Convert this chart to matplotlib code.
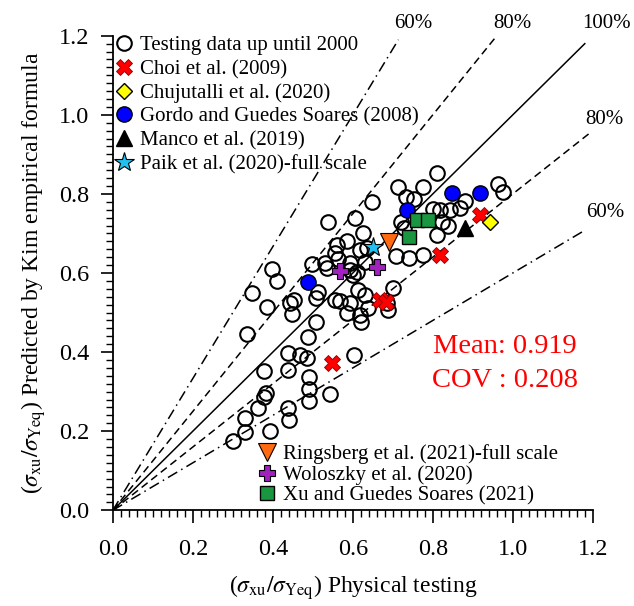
import matplotlib
matplotlib.use("Agg")
import matplotlib.pyplot as plt
from matplotlib.ticker import MultipleLocator
import numpy as np

plt.rcParams['font.family'] = ['Liberation Serif', 'DejaVu Serif']
plt.rcParams['mathtext.fontset'] = 'stix'

# ---- data ----
test_x = [0.300, 0.330, 0.330, 0.363, 0.378, 0.383, 0.393, 0.378, 0.438, 0.438,
          0.440, 0.490, 0.490, 0.490, 0.543, 0.438, 0.468, 0.485, 0.603, 0.488,
          0.508, 0.448, 0.443, 0.453, 0.508, 0.513, 0.335, 0.385, 0.348, 0.398,
          0.410, 0.498, 0.535, 0.555, 0.568, 0.593, 0.585, 0.613, 0.630, 0.638,
          0.618, 0.620, 0.685, 0.700, 0.688, 0.555, 0.563, 0.593, 0.600, 0.593,
          0.610, 0.585, 0.618, 0.635, 0.648, 0.538, 0.605, 0.625, 0.560, 0.530,
          0.630, 0.810, 0.713, 0.775, 0.733, 0.753, 0.963, 0.975, 0.880, 0.800,
          0.818, 0.843, 0.868, 0.720, 0.728, 0.823, 0.838, 0.810, 0.708, 0.740,
          0.775]
test_y = [0.175, 0.197, 0.233, 0.258, 0.286, 0.296, 0.200, 0.352, 0.354, 0.258,
          0.228, 0.337, 0.306, 0.276, 0.294, 0.397, 0.392, 0.385, 0.392, 0.438,
          0.476, 0.496, 0.524, 0.532, 0.537, 0.552, 0.446, 0.514, 0.549, 0.610,
          0.580, 0.623, 0.613, 0.532, 0.529, 0.524, 0.499, 0.557, 0.544, 0.511,
          0.494, 0.476, 0.524, 0.562, 0.506, 0.651, 0.636, 0.625, 0.595, 0.608,
          0.603, 0.681, 0.658, 0.663, 0.780, 0.729, 0.739, 0.701, 0.671, 0.625,
          0.628, 0.853, 0.818, 0.818, 0.792, 0.787, 0.825, 0.805, 0.782, 0.762,
          0.759, 0.759, 0.765, 0.729, 0.714, 0.729, 0.719, 0.696, 0.643, 0.638,
          0.646]

choi_x = [0.548, 0.668, 0.683, 0.818, 0.918]
choi_y = [0.372, 0.532, 0.527, 0.646, 0.747]
chuj_x = [0.943]
chuj_y = [0.729]
gordo_x = [0.488, 0.735, 0.848, 0.918]
gordo_y = [0.577, 0.759, 0.803, 0.803]
manco_x = [0.880]
manco_y = [0.714]
paik_x = [0.650]
paik_y = [0.666]
rings_x = [0.690]
rings_y = [0.678]
wolo_x = [0.568, 0.660]
wolo_y = [0.605, 0.615]
xu_x = [0.760, 0.788, 0.740]
xu_y = [0.734, 0.734, 0.691]

ratios = [1/0.6, 1/0.8, 1.0, 0.8, 0.6]
ratio_labels = ['60%', '80%', '100%', '80%', '60%']
mean_val = 0.919
cov_val = 0.208

# ---- figure ----
fig = plt.figure(figsize=(6.34, 6.06), dpi=100)
ax = fig.add_axes([0.178, 0.158, 0.757, 0.783])

# reference lines
styles = [(0, (7, 3, 1, 3)), (0, (5, 3)), '-', (0, (5, 3)), (0, (7, 3, 1, 3))]
x_ends = [1.19 / ratios[0], 1.2 / ratios[1], 1.18, 1.19, 1.175]
for r, ls, xe in zip(ratios, styles, x_ends):
    xs = np.array([0.0, xe])
    ax.plot(xs, r * xs, color='black', lw=1.1, ls=ls, zorder=2)

# label positions for ratio lines (in data coords)
lab_pos = [(0.75, 1.23), (1.0, 1.23), (1.235, 1.23), (1.23, 0.987), (1.23, 0.754)]
for (lx, ly), t in zip(lab_pos, ratio_labels):
    ax.text(lx, ly, t, fontsize=15, ha='center', va='center', clip_on=False)

h_test, = ax.plot(test_x, test_y, 'o', ms=10.5, mfc='none', mec='black', mew=1.5,
                  ls='none', label='Testing data up until 2000', zorder=3)
h_choi, = ax.plot(choi_x, choi_y, 'X', ms=12, mfc='#ff0000', mec='#8b0000', mew=0.6,
                  ls='none', label='Choi et al. (2009)', zorder=4)
h_chuj, = ax.plot(chuj_x, chuj_y, 'D', ms=8.5, mfc='#ffff00', mec='black', mew=1.0,
                  ls='none', label='Chujutalli et al. (2020)', zorder=4)
h_gordo, = ax.plot(gordo_x, gordo_y, 'o', ms=11, mfc='#0000ff', mec='black', mew=1.0,
                   ls='none', label='Gordo and Guedes Soares (2008)', zorder=4)
h_manco, = ax.plot(manco_x, manco_y, '^', ms=11, mfc='black', mec='black', mew=1.0,
                   ls='none', label='Manco et al. (2019)', zorder=4)
h_paik, = ax.plot(paik_x, paik_y, '*', ms=15, mfc='#20c0f0', mec='black', mew=0.8,
                  ls='none', label='Paik et al. (2020)-full scale', zorder=4)
h_rings, = ax.plot(rings_x, rings_y, 'v', ms=13, mfc='#ff6a10', mec='black', mew=0.8,
                   ls='none', label='Ringsberg et al. (2021)-full scale', zorder=4)
h_wolo, = ax.plot(wolo_x, wolo_y, 'P', ms=12, mfc='#a020c0', mec='black', mew=0.8,
                  ls='none', label='Woloszky et al. (2020)', zorder=4)
h_xu, = ax.plot(xu_x, xu_y, 's', ms=9.5, mfc='#1a9641', mec='black', mew=1.0,
                ls='none', label='Xu and Guedes Soares (2021)', zorder=4)

leg1 = ax.legend(handles=[h_test, h_choi, h_chuj, h_gordo, h_manco, h_paik],
                 loc='upper left', bbox_to_anchor=(0.002, 1.0), frameon=False,
                 fontsize=15, handlelength=1.0, handletextpad=0.25,
                 labelspacing=0.2, borderpad=0, borderaxespad=0, numpoints=1)
ax.add_artist(leg1)
ax.legend(handles=[h_rings, h_wolo, h_xu], loc='lower left',
          bbox_to_anchor=(0.300, 0.01), frameon=False, fontsize=15,
          handlelength=1.0, handletextpad=0.25, labelspacing=0.05,
          borderpad=0, borderaxespad=0, numpoints=1)

ax.text(0.98, 0.413, f'Mean: {mean_val:.3f}', color='#ff0000', fontsize=20.5,
        ha='center', va='center')
ax.text(0.98, 0.329, f'COV : {cov_val:.3f}', color='#ff0000', fontsize=20.5,
        ha='center', va='center')

ax.set_xlim(0, 1.2)
ax.set_ylim(0, 1.2)
ax.xaxis.set_major_locator(MultipleLocator(0.2))
ax.yaxis.set_major_locator(MultipleLocator(0.2))
ax.xaxis.set_minor_locator(MultipleLocator(0.02))
ax.yaxis.set_minor_locator(MultipleLocator(0.02))
ax.xaxis.set_major_formatter(plt.FuncFormatter(lambda v, p: f'{v:.1f}'))
ax.yaxis.set_major_formatter(plt.FuncFormatter(lambda v, p: f'{v:.1f}'))
ax.tick_params(which='major', direction='out', length=9, width=1.2, labelsize=17.5)
ax.tick_params(axis='x', which='major', pad=12)
ax.tick_params(axis='y', which='major', pad=8)
ax.tick_params(which='minor', direction='out', length=5, width=1.0)
for s in ['top', 'right']:
    ax.spines[s].set_visible(False)
for s in ['left', 'bottom']:
    ax.spines[s].set_linewidth(1.3)

ax.set_xlabel(r'($\sigma_{\rm xu}/\sigma_{\rm Yeq}$) Physical testing', fontsize=17, labelpad=9)
ax.set_ylabel(r'($\sigma_{\rm xu}/\sigma_{\rm Yeq}$) Predicted by Kim empirical formula',
              fontsize=17, labelpad=8)

fig.savefig('out.png', dpi=100)
